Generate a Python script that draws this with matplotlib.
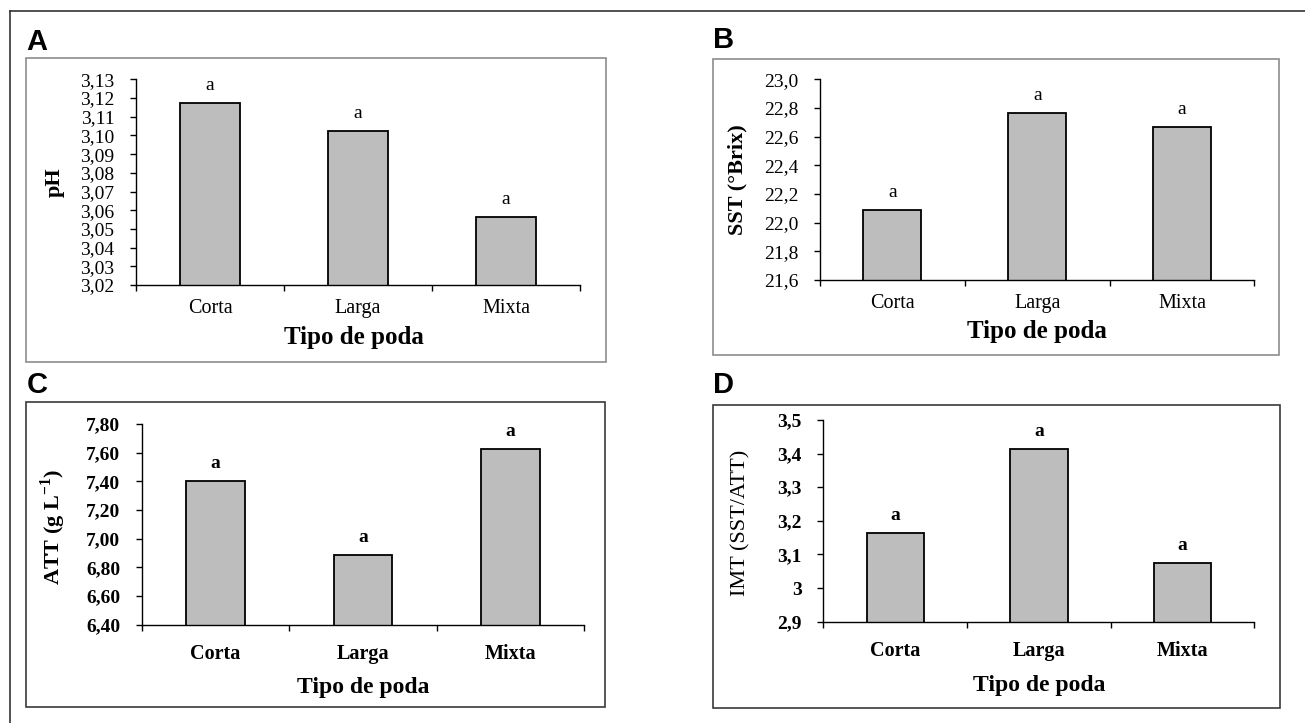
import numpy as np
import matplotlib
matplotlib.use("Agg")
import matplotlib.pyplot as plt
from matplotlib.patches import Rectangle
from matplotlib.lines import Line2D

plt.rcParams['font.family'] = 'Liberation Serif'
plt.rcParams['mathtext.fontset'] = 'custom'
plt.rcParams['mathtext.rm'] = 'Liberation Serif'
plt.rcParams['mathtext.bf'] = 'Liberation Serif:bold'

# datos
categorias = ['Corta', 'Larga', 'Mixta']
letras = ['a', 'a', 'a']

ph = [3.1175, 3.1025, 3.0565]
sst = [22.09, 22.765, 22.665]
att = [7.40, 6.885, 7.625]
imt = [3.165, 3.415, 3.075]

ph_ticks = np.linspace(3.02, 3.13, 12)
sst_ticks = np.linspace(21.6, 23.0, 8)
att_ticks = np.linspace(6.40, 7.80, 8)
imt_ticks = np.linspace(2.9, 3.5, 7)

ph_labels = [f"{t:.2f}".replace('.', ',') for t in ph_ticks]
sst_labels = [f"{t:.1f}".replace('.', ',') for t in sst_ticks]
att_labels = [f"{t:.2f}".replace('.', ',') for t in att_ticks]
imt_labels = ['2,9', '3', '3,1', '3,2', '3,3', '3,4', '3,5']

W, H = 1305, 723
fig = plt.figure(figsize=(W / 100, H / 100), dpi=100)


def caja(x0, y0, x1, y1):
    # rectangulo en pixeles (origen arriba a la izquierda) -> fraccion de figura
    return [x0 / W, 1 - y1 / H, (x1 - x0) / W, (y1 - y0) / H]


def panel(rect, valores, yticks, ylabs, ylabel, ylab_pos, xlab_pos,
          bold_ticks=False, ylab_bold=True, cat_pad=10, xlab_size=18):
    ax = fig.add_axes(caja(*rect))
    x = np.arange(len(categorias))
    ax.bar(x, valores, width=0.4, color='#bdbdbd', edgecolor='black',
           linewidth=1.3, zorder=2)
    ax.set_xlim(-0.5, 2.5)
    ax.set_ylim(yticks[0], yticks[-1])
    peso = 'bold' if bold_ticks else 'normal'
    for xi, v, l in zip(x, valores, letras):
        ax.annotate(l, (xi, v), xytext=(0, 12.5), textcoords='offset points',
                    ha='center', va='center', fontsize=14, fontweight=peso)
    ax.set_yticks(yticks, ylabs, fontsize=14, fontweight=peso)
    ax.set_xticks(x, categorias, fontsize=14.5, fontweight=peso)
    ax.set_xticks([-0.5, 0.5, 1.5, 2.5], minor=True)
    ax.tick_params(axis='x', which='major', length=0, pad=cat_pad)
    ax.tick_params(axis='x', which='minor', length=4.5, width=1, direction='out')
    ax.tick_params(axis='y', length=4.5, width=1, direction='out', pad=11)
    for s in ['top', 'right']:
        ax.spines[s].set_visible(False)
    for s in ['left', 'bottom']:
        ax.spines[s].set_linewidth(1)
    ax.set_ylabel(ylabel, fontsize=16, fontweight='bold' if ylab_bold else 'normal')
    ax.yaxis.set_label_coords(*ylab_pos)
    ax.yaxis.label.set_va('center')
    ax.yaxis.label.set_ha('center')
    ax.set_xlabel('Tipo de poda', fontsize=xlab_size, fontweight='bold')
    ax.xaxis.set_label_coords(*xlab_pos)
    ax.xaxis.label.set_va('center')
    return ax


ax_a = panel((136, 79.3, 580, 285), ph, ph_ticks, ph_labels, 'pH',
             (-0.183, 0.502), (0.49, -0.255))
ax_b = panel((820, 79.3, 1254.4, 280), sst, sst_ticks, sst_labels, 'SST (°Brix)',
             (-0.189, 0.498), (0.5, -0.255))
ax_c = panel((142, 424, 584, 624.7), att, att_ticks, att_labels,
             r'ATT (g L$^{\mathbf{-1}}$)', (-0.202, 0.488), (0.5, -0.315),
             bold_ticks=True, cat_pad=14, xlab_size=17)
ax_d = panel((823.4, 420, 1254.4, 621.7), imt, imt_ticks, imt_labels,
             'IMT (SST/ATT)', (-0.191, 0.489), (0.5, -0.315),
             bold_ticks=True, ylab_bold=False, cat_pad=14, xlab_size=17)

# marcos de cada panel
for (x0, y0, x1, y1), col in [((26.5, 58, 606, 362), '#8c8c8c'),
                              ((713, 59.3, 1279, 355), '#8c8c8c'),
                              ((26.5, 402.3, 605, 707), '#3a3a3a'),
                              ((713, 405, 1280, 708), '#3a3a3a')]:
    r = caja(x0, y0, x1, y1)
    fig.add_artist(Rectangle((r[0], r[1]), r[2], r[3], transform=fig.transFigure,
                             fill=False, edgecolor=col, linewidth=1.2))

# letras de los paneles
for letra, (lx, ly) in zip('ABCD', [(26.5, 50), (713, 48), (26.7, 393), (713, 393)]):
    fig.text(lx / W, 1 - ly / H, letra, family='Liberation Sans', weight='bold',
             fontsize=21, ha='left', va='baseline')

# marco exterior
fig.add_artist(Line2D([9.5 / W, 1], [1 - 11 / H, 1 - 11 / H], color='#333333',
                      linewidth=1.2, transform=fig.transFigure))
fig.add_artist(Line2D([9.5 / W, 9.5 / W], [0, 1 - 11 / H], color='#333333',
                      linewidth=1.2, transform=fig.transFigure))

fig.savefig('out.png', dpi=100)
